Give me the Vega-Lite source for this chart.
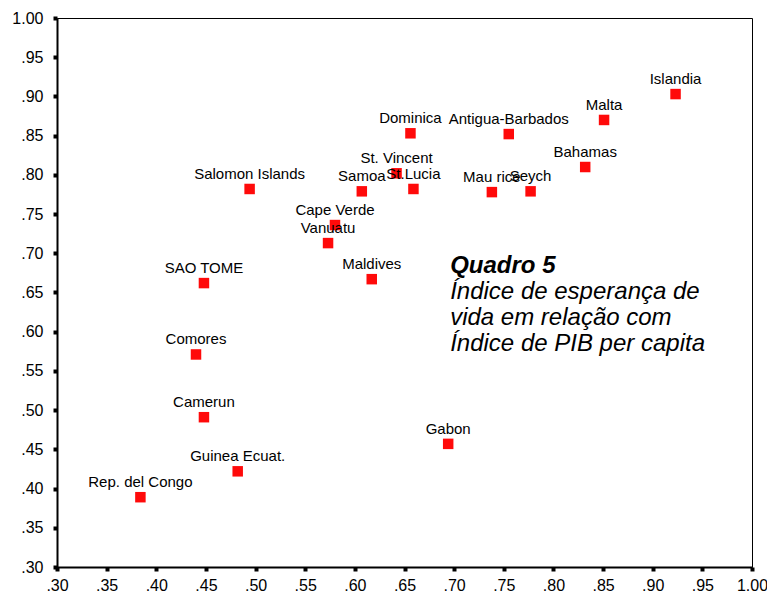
{
  "$schema": "https://vega.github.io/schema/vega-lite/v6.json",
  "width": 695,
  "height": 549,
  "autosize": {"type": "none"},
  "padding": {"left": 57, "top": 18, "right": 15, "bottom": 34},
  "background": "white",
  "config": {
    "view": {"stroke": "black", "strokeWidth": 1},
    "font": "Liberation Sans",
    "axis": {
      "grid": false,
      "domainColor": "black",
      "domainWidth": 2,
      "tickColor": "black",
      "tickSize": 4,
      "tickWidth": 4,
      "labelFont": "Liberation Sans",
      "labelFontSize": 16,
      "labelColor": "black",
      "title": null,
      "labelOverlap": false,
      "labelFlush": false
    }
  },
  "data": {
    "values": [
      {"pais": "Islandia", "pib": 0.923, "vida": 0.903},
      {"pais": "Malta", "pib": 0.851, "vida": 0.870},
      {"pais": "Antigua-Barbados", "pib": 0.755, "vida": 0.852},
      {"pais": "Dominica", "pib": 0.656, "vida": 0.853},
      {"pais": "Bahamas", "pib": 0.832, "vida": 0.810},
      {"pais": "St. Vincent", "pib": 0.642, "vida": 0.802},
      {"pais": "Samoa", "pib": 0.607, "vida": 0.779},
      {"pais": "St.Lucia", "pib": 0.659, "vida": 0.782},
      {"pais": "Mau rice", "pib": 0.738, "vida": 0.778},
      {"pais": "Seych", "pib": 0.777, "vida": 0.779},
      {"pais": "Salomon Islands", "pib": 0.494, "vida": 0.782},
      {"pais": "Cape Verde", "pib": 0.580, "vida": 0.736},
      {"pais": "Vanuatu", "pib": 0.573, "vida": 0.713},
      {"pais": "Maldives", "pib": 0.617, "vida": 0.667},
      {"pais": "SAO TOME", "pib": 0.448, "vida": 0.662},
      {"pais": "Comores", "pib": 0.440, "vida": 0.571},
      {"pais": "Camerun", "pib": 0.448, "vida": 0.491},
      {"pais": "Gabon", "pib": 0.694, "vida": 0.457},
      {"pais": "Guinea Ecuat.", "pib": 0.482, "vida": 0.422},
      {"pais": "Rep. del Congo", "pib": 0.384, "vida": 0.389}
    ]
  },
  "layer": [
    {
      "encoding": {
        "x": {
          "field": "pib", "type": "quantitative",
          "scale": {"domain": [0.3, 1.0], "nice": false, "zero": false},
          "axis": {
            "values": [0.3, 0.35, 0.4, 0.45, 0.5, 0.55, 0.6, 0.65, 0.7, 0.75, 0.8, 0.85, 0.9, 0.95, 1.0],
            "labelExpr": "datum.value < 0.999 ? substring(format(datum.value, '.2f'), 1) : format(datum.value, '.2f')",
            "labelPadding": 6
          }
        },
        "y": {
          "field": "vida", "type": "quantitative",
          "scale": {"domain": [0.3, 1.0], "nice": false, "zero": false},
          "axis": {
            "values": [0.3, 0.35, 0.4, 0.45, 0.5, 0.55, 0.6, 0.65, 0.7, 0.75, 0.8, 0.85, 0.9, 0.95, 1.0],
            "labelExpr": "datum.value < 0.999 ? substring(format(datum.value, '.2f'), 1) : format(datum.value, '.2f')",
            "labelPadding": 10
          }
        }
      },
      "layer": [
        {
          "mark": {"type": "point", "shape": "square", "filled": true, "size": 110, "color": "#ff0a0a", "opacity": 1}
        },
        {
          "mark": {"type": "text", "fontSize": 15, "font": "Liberation Sans", "color": "black", "dy": -15, "baseline": "middle", "align": "center"},
          "encoding": {
            "text": {"field": "pais", "type": "nominal"}
          }
        }
      ]
    },
    {
      "data": {"values": [{"t": "Quadro 5"}]},
      "mark": {"type": "text", "fontSize": 24, "fontWeight": "bold", "fontStyle": "italic", "font": "Liberation Sans", "color": "black", "align": "left", "baseline": "middle"},
      "encoding": {
        "x": {
          "datum": 0.696, "type": "quantitative",
          "axis": {
            "values": [0.3, 0.35, 0.4, 0.45, 0.5, 0.55, 0.6, 0.65, 0.7, 0.75, 0.8, 0.85, 0.9, 0.95, 1.0],
            "labelExpr": "datum.value < 0.999 ? substring(format(datum.value, '.2f'), 1) : format(datum.value, '.2f')",
            "labelPadding": 6
          }
        },
        "y": {
          "datum": 0.684, "type": "quantitative",
          "axis": {
            "values": [0.3, 0.35, 0.4, 0.45, 0.5, 0.55, 0.6, 0.65, 0.7, 0.75, 0.8, 0.85, 0.9, 0.95, 1.0],
            "labelExpr": "datum.value < 0.999 ? substring(format(datum.value, '.2f'), 1) : format(datum.value, '.2f')",
            "labelPadding": 10
          }
        },
        "text": {"field": "t", "type": "nominal"}
      }
    },
    {
      "data": {"values": [{"t": ["Índice de esperança de", "vida em relação com", "Índice de PIB per capita"]}]},
      "mark": {"type": "text", "fontSize": 24, "fontStyle": "italic", "font": "Liberation Sans", "color": "black", "align": "left", "baseline": "middle", "lineHeight": 26},
      "encoding": {
        "x": {
          "datum": 0.696, "type": "quantitative",
          "axis": {
            "values": [0.3, 0.35, 0.4, 0.45, 0.5, 0.55, 0.6, 0.65, 0.7, 0.75, 0.8, 0.85, 0.9, 0.95, 1.0],
            "labelExpr": "datum.value < 0.999 ? substring(format(datum.value, '.2f'), 1) : format(datum.value, '.2f')",
            "labelPadding": 6
          }
        },
        "y": {
          "datum": 0.6506, "type": "quantitative",
          "axis": {
            "values": [0.3, 0.35, 0.4, 0.45, 0.5, 0.55, 0.6, 0.65, 0.7, 0.75, 0.8, 0.85, 0.9, 0.95, 1.0],
            "labelExpr": "datum.value < 0.999 ? substring(format(datum.value, '.2f'), 1) : format(datum.value, '.2f')",
            "labelPadding": 10
          }
        },
        "text": {"field": "t", "type": "nominal"}
      }
    }
  ]
}
